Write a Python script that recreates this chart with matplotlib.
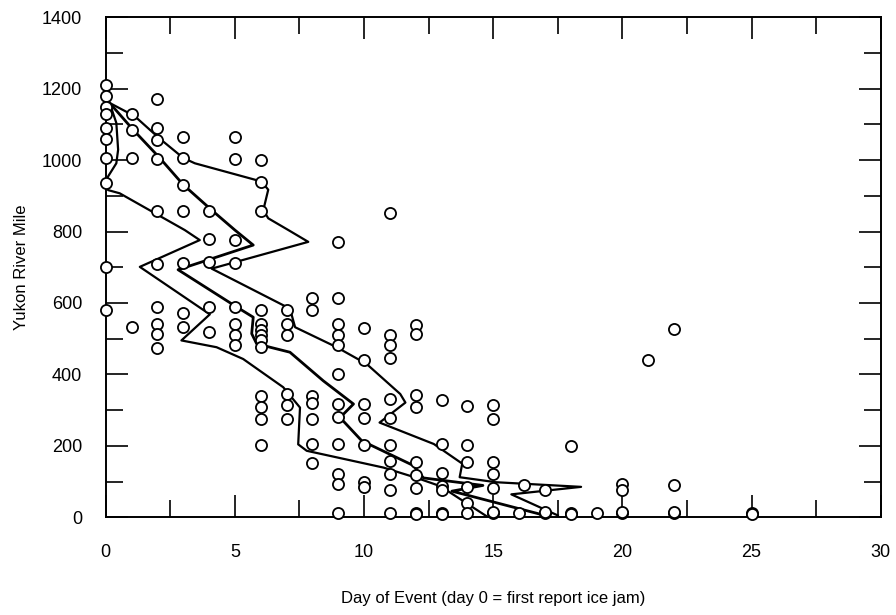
import matplotlib
matplotlib.use("Agg")
import matplotlib.pyplot as plt
from matplotlib.ticker import MultipleLocator

plt.rcParams['font.family'] = ['Liberation Sans', 'DejaVu Sans']

# observed ice jam reports: day of event and river mile
dias = ([0] * 10 + [1] * 4 + [2] * 10 + [3] * 7 + [4] * 5 + [5] * 8 + [6] * 13
        + [7] * 6 + [8] * 7 + [9] * 12 + [10] * 7 + [11] * 11 + [12] * 9
        + [13] * 7 + [14] * 6 + [15] * 7 + [16.2, 16] + [17] * 3 + [18] * 3
        + [19] + [20] * 4 + [21] + [22] * 4 + [25] * 2)
milhas = [1210, 1180, 1150, 1130, 1090, 1058, 1005, 935, 700, 580,
          1130, 1083, 1007, 532,
          1171, 1090, 1057, 1004, 858, 710, 589, 542, 514, 473,
          1066, 1007, 929, 858, 713, 573, 532,
          858, 779, 715, 589, 518,
          1064, 1003, 776, 713, 589, 542, 509, 481,
          1001, 938, 858, 579, 542, 525, 509, 495, 476, 340, 309, 275, 202,
          581, 542, 511, 345, 315, 275,
          614, 579, 339, 320, 275, 204, 153,
          771, 614, 542, 511, 481, 401, 317, 281, 204, 120, 94, 12,
          529, 441, 317, 277, 202, 99, 84,
          851, 509, 481, 446, 330, 279, 202, 157, 120, 75, 12,
          539, 514, 342, 309, 155, 118, 82, 12, 10,
          328, 204, 123, 87, 75, 12, 10,
          312, 202, 155, 84, 40, 12,
          314, 275, 155, 120, 82, 12, 14,
          90, 12,
          75, 12, 14,
          200, 12, 10,
          12,
          94, 75, 12, 14,
          441,
          526, 89, 12, 14,
          12, 10]

# curva media
media_dia = [0.15, 1.06, 2.09, 3.0, 4.1, 5.0, 5.71, 2.8, 5.06, 5.71, 5.65, 5.84,
             6.36, 7.13, 8.42, 9.59, 9.07, 9.91, 11.9, 12.3, 14.6, 13.4, 17.0]
media_milha = [1160, 1085, 1006, 931, 860, 804, 762, 693, 589, 560, 514, 486,
               476, 462, 382, 317, 279, 214, 145, 110, 89, 73, 5]

# limite superior
sup_dia = [0.15, 1.12, 2.09, 3.0, 3.45, 6.03, 6.29, 6.1, 6.29, 7.07, 7.84, 4.1,
           7.13, 7.33, 8.94, 10.1, 11.4, 11.6, 10.6, 12.7, 13.8, 13.7, 15.1,
           18.4, 15.7, 17.5]
sup_milha = [1160, 1123, 1060, 1006, 991, 940, 917, 860, 837, 804, 771, 696,
             584, 532, 476, 429, 345, 321, 265, 205, 150, 112, 98,
             85, 64, 5]

# limite inferior
inf_dia = [0.15, 0.41, 0.48, 0.41, 0.09, 0.0, 0.09, 0.54, 3.06, 3.64, 1.32,
           4.03, 2.93, 4.29, 5.32, 6.87, 7.52, 7.45, 7.78, 10.75, 12.04,
           12.95, 14.8]
inf_milha = [1160, 1104, 1029, 991, 954, 930, 916, 907, 804, 776, 701,
             568, 495, 476, 443, 364, 307, 204, 186, 139, 110,
             87, 0]

fig = plt.figure(figsize=(8.96, 6.15), dpi=100)
ax = fig.add_axes([0.118, 0.159, 0.865, 0.813])

ax.plot(inf_dia, inf_milha, color='black', lw=1.6, zorder=2)
ax.plot(media_dia, media_milha, color='black', lw=2.0, zorder=2)
ax.plot(sup_dia, sup_milha, color='black', lw=1.6, zorder=2)
ax.plot(dias, milhas, 'o', ms=8, mfc='white', mec='black', mew=1.3,
        clip_on=False, zorder=3)

ax.set_xlim(0, 30)
ax.set_ylim(0, 1400)
ax.xaxis.set_major_locator(MultipleLocator(5))
ax.xaxis.set_minor_locator(MultipleLocator(2.5))
ax.yaxis.set_major_locator(MultipleLocator(200))
ax.yaxis.set_minor_locator(MultipleLocator(100))
ax.tick_params(which='both', direction='in', top=True, right=True, width=1.2)
ax.tick_params(which='major', length=16, labelsize=13)
ax.tick_params(axis='x', which='major', pad=19)
ax.tick_params(axis='y', which='major', pad=17)
ax.tick_params(which='minor', length=12)
for lado in ax.spines.values():
    lado.set_linewidth(1.4)

ax.set_xlabel('Day of Event (day 0 = first report ice jam)', fontsize=12, labelpad=22)
ax.set_ylabel('Yukon River Mile', fontsize=12, labelpad=9)

fig.savefig('out.png', dpi=100)
